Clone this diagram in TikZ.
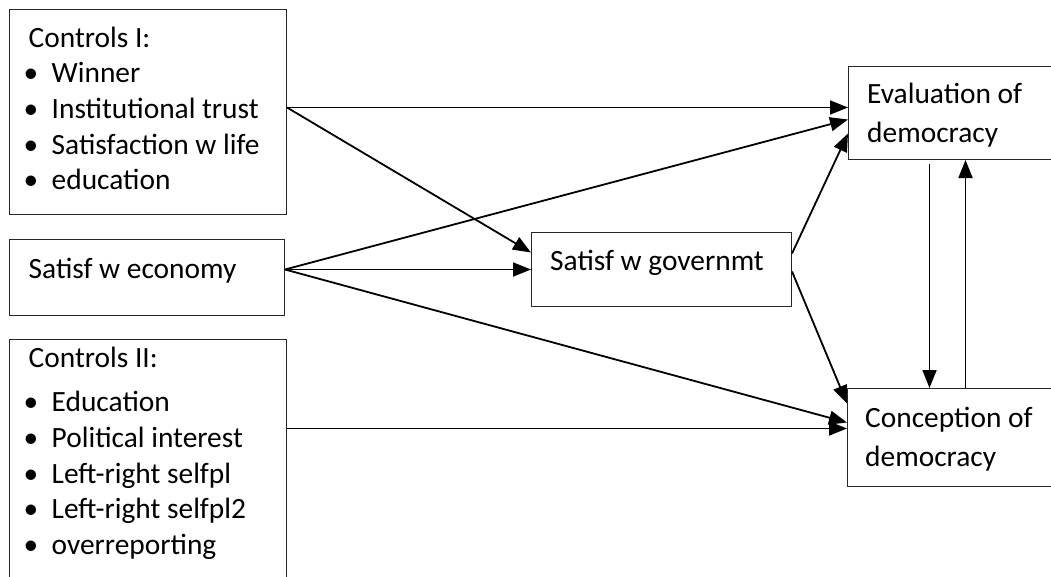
\documentclass[tikz,border=0pt]{standalone}
\usepackage{fontspec}
\setmainfont{Carlito}
\usetikzlibrary{arrows.meta}
\newcommand\itm[1]{\hspace*{-5pt}\makebox[28pt][l]{•}#1}
\begin{document}
\begin{tikzpicture}[x=1pt,y=-1pt,
  box/.style={draw=black!85, line width=1pt, inner sep=0pt, anchor=north west},
  arr/.style={line width=1.8pt, -{Triangle[length=18pt,width=14pt]}},
  txt/.style={inner sep=0pt, anchor=base west, font=\fontsize{29.4}{35.7}\selectfont},
  txtb/.style={inner sep=0pt, anchor=base west, font=\fontsize{29.4}{39.5}\selectfont}]
\useasboundingbox (0,0) rectangle (1051,576);
\clip (0,0) rectangle (1051,576);
% boxes
\node[box, minimum width=277pt, minimum height=205pt] (ctrlI) at (9,9) {};
\node[box, minimum width=275pt, minimum height=76pt] (econ) at (9,239) {};
\node[box, minimum width=277pt, minimum height=251pt] (ctrlII) at (9,339) {};
\node[box, minimum width=260pt, minimum height=74pt] (gov) at (531,232) {};
\node[box, minimum width=212pt, minimum height=93pt] (eval) at (848,66) {};
\node[box, minimum width=213pt, minimum height=98pt] (conc) at (847,388) {};
% texts
\node[txt] (tI) at (28.5,47) {\begin{tabular}[t]{@{}l@{}}Controls I:\\
\itm{Winner}\\ \itm{Institutional trust}\\ \itm{Satisfaction w life}\\ \itm{education}\end{tabular}};
\node[txt] (tE) at (28.5,278) {Satisf w economy};
\node[txt] (tII) at (28.5,367) {\begin{tabular}[t]{@{}l@{}}Controls II:\\[9pt]
\itm{Education}\\ \itm{Political interest}\\ \itm{Left-right selfpl}\\ \itm{Left-right selfpl2}\\ \itm{overreporting}\end{tabular}};
\node[txt] (tG) at (550,270) {Satisf w governmt};
\node[txtb] (tV) at (867,103) {\begin{tabular}[t]{@{}l@{}}Evaluation of\\ democracy\end{tabular}};
\node[txtb] (tC) at (865,427) {\begin{tabular}[t]{@{}l@{}}Conception of\\ democracy\end{tabular}};
% connectors
\coordinate (a1) at ([yshift=4.5pt]ctrlI.east);
\draw[arr] (a1) -- (a1 -| eval.west);
\draw[arr] (a1) -- ([yshift=17pt]gov.west);
\coordinate (b1) at ([yshift=8pt]econ.east);
\draw[arr] (b1) -- ([yshift=-6.5pt]eval.west);
\draw[arr] (b1) -- (b1 -| gov.west);
\draw[arr] (b1) -- ([yshift=15pt]conc.west);
\coordinate (c1) at ([yshift=16pt]gov.east);
\coordinate (c2) at ([yshift=-2pt]gov.east);
\draw[arr] (c1) -- ([yshift=-20.5pt]eval.west);
\draw[arr] (c2) -- ([yshift=34pt]conc.west);
\coordinate (d1) at ([yshift=36.5pt]ctrlII.east);
\draw[arr] (d1) -- (d1 -| conc.west);
\coordinate (v1) at ([xshift=-25pt,yshift=-4pt]eval.south);
\draw[arr] (v1) -- (v1 |- conc.north);
\coordinate (v2) at ([xshift=11pt]eval.south);
\draw[arr] (v2 |- conc.north) -- (v2);
\end{tikzpicture}
\end{document}
